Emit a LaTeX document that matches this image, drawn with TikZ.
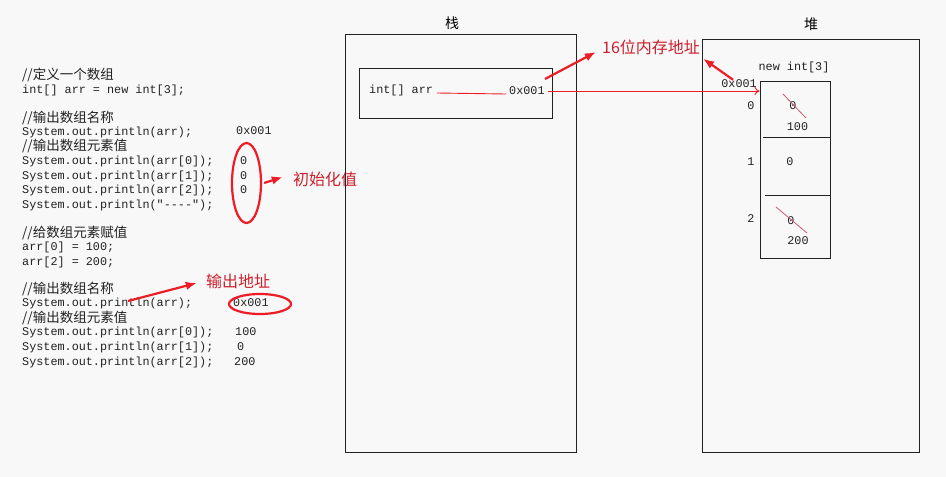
\documentclass[tikz,border=0pt]{standalone}
\usepackage{fontspec}
\setmonofont{Liberation Mono}
\newfontfamily\cjk{Noto Sans CJK SC}
\usepackage{tikz}
\usetikzlibrary{calc,positioning,shapes.geometric,arrows.meta}

\definecolor{paper}{HTML}{F8F8F8}
\definecolor{ink}{HTML}{222222}
\definecolor{markred}{HTML}{EE1C25}
\definecolor{notered}{HTML}{CC1F2D}
\definecolor{strikered}{HTML}{C85A70}

\begin{document}
\begin{tikzpicture}[
  >={Latex[length=11pt,width=8.5pt]},
  x=1pt, y=-1pt,            % pixel grid, y grows downward
  code/.style={anchor=west, inner sep=0pt, text=ink, font=\ttfamily\fontsize{11.8}{12}\selectfont},
  cmt/.style={anchor=west, inner sep=0pt, text=ink, font=\cjk\fontsize{13.5}{14}\selectfont},
  val/.style={inner sep=0pt, text=ink, font=\ttfamily\fontsize{11.8}{12}\selectfont},
  areaTitle/.style={inner sep=0pt, text=black, font=\cjk\fontsize{14}{15}\selectfont},
  note/.style={inner sep=0pt, text=notered, font=\cjk\fontsize{16}{17}\selectfont},
  memframe/.style={draw=ink, line width=0.9pt, inner sep=0pt},
  noteArrow/.style={->, markred, line width=2.2pt},
  ring/.style={ellipse, draw=markred, line width=2.2pt, inner sep=0pt},
  ptr/.style={-{To[length=5pt,width=8pt]}, markred, line width=0.9pt},
  strike/.style={strikered, line width=0.8pt}
]

% --- paper
\fill[paper] (0,0) rectangle (946,477);

% --- code listing
\node[cmt]  (c1)  at (22,75)  {//定义一个数组};
\node[code] (c2)  at (22,90)  {int[] arr = new int[3];};
\node[cmt]  (c3)  at (22,118) {//输出数组名称};
\node[code] (c4)  at (22,132) {System.out.println(arr);};
\node[cmt]  (c5)  at (22,146) {//输出数组元素值};
\node[code] (c6)  at (22,161) {System.out.println(arr[0]);};
\node[code] (c7)  at (22,176) {System.out.println(arr[1]);};
\node[code] (c8)  at (22,190) {System.out.println(arr[2]);};
\node[code] (c9)  at (22,205) {System.out.println("----");};
\node[cmt]  (c10) at (22,233) {//给数组元素赋值};
\node[code] (c11) at (22,247) {arr[0] = 100;};
\node[code] (c12) at (22,262) {arr[2] = 200;};
\node[cmt]  (c13) at (22,289) {//输出数组名称};
\node[code] (c14) at (22,303) {System.out.println(arr);};
\node[cmt]  (c15) at (22,318) {//输出数组元素值};
\node[code] (c16) at (22,332) {System.out.println(arr[0]);};
\node[code] (c17) at (22,347) {System.out.println(arr[1]);};
\node[code] (c18) at (22,362) {System.out.println(arr[2]);};

% --- printed output
\node[code] (o1) at (236,131) {0x001};
\node[code] (o2) at (240,161) {0};
\node[code] (o3) at (240,176) {0};
\node[code] (o4) at (240,190) {0};
\node[code] (o5) at (233,303) {0x001};
\node[code] (o6) at (235,332) {100};
\node[code] (o7) at (237,347) {0};
\node[code] (o8) at (234,362) {200};

% --- annotations on the output
\node[ring, minimum width=29, minimum height=80] (initRing) at (246.5,183) {};
\node[note] (initNote) at (325,179) {初始化值};
\draw[noteArrow] ([xshift=2pt]initRing.east) -- ([xshift=-10pt,yshift=2pt]initNote.west);

\node[ring, minimum width=62, minimum height=20] (outRing) at (260,304) {};
\node[note] (outNote) at (238,281) {输出地址};
\coordinate (outTail) at (128,301);
\draw[noteArrow] (outTail) -- ([xshift=-9pt,yshift=-2pt]outNote.west);

% --- stack
\node[memframe, minimum width=231, minimum height=418] (stack) at (460.5,243) {};
\node[areaTitle] (stackT) at (452,23) {栈};
\node[memframe, minimum width=193, minimum height=50] (slot) at (455.5,93) {};
\node[code] (var) at (369,90) {int[] arr};
\node[code] (sAddr) at (509,91) {0x001};
\draw[markred, line width=0.9pt] ([xshift=4pt,yshift=-3pt]var.east) -- ([xshift=-3pt,yshift=-3pt]sAddr.west);

% --- heap
\node[memframe, minimum width=217, minimum height=413] (heap) at (810.5,245.5) {};
\node[areaTitle] (heapT) at (811,24) {堆};
\node[val] (newT) at (794,67) {new int[3]};
\node[memframe, minimum width=70, minimum height=177] (arrbox) at (795,169.5) {};
\draw[ink, line width=0.9pt] (763,137) -- (830,137);
\draw[ink, line width=0.9pt] (765,195) -- (830,195);
\node[val, anchor=east] (hAddr) at (757,84) {0x001};
\node[val] (i0) at (751,106) {0};
\node[val] (i1) at (751,162) {1};
\node[val] (i2) at (751,219) {2};

% cell values
\node[val] (v0) at (793,106) {0};
\node[val] (n0) at (797.5,127) {100};
\node[val] (v1) at (790,162) {0};
\node[val] (v2) at (791,221) {0};
\node[val] (n2) at (798,241) {200};
\draw[strike] ([shift={(-10,-12)}]v0.center) -- ([shift={(13,12)}]v0.center);
\draw[strike] ([shift={(-15,-14)}]v2.center) -- ([shift={(16,12)}]v2.center);

% --- reference from stack to heap
\draw[ptr] ([xshift=3pt]sAddr.east) -- (arrbox.west |- sAddr.east);

% --- address note
\node[note] (addrNote) at (651,47) {16位内存地址};
\coordinate (stackTail) at (545,79);
\draw[noteArrow] (stackTail) -- ([xshift=-6pt,yshift=-5pt]addrNote.west);
\draw[noteArrow] ([xshift=-6pt]hAddr.north) -- ([xshift=3pt,yshift=-4pt]addrNote.south east);

\end{tikzpicture}
\end{document}
